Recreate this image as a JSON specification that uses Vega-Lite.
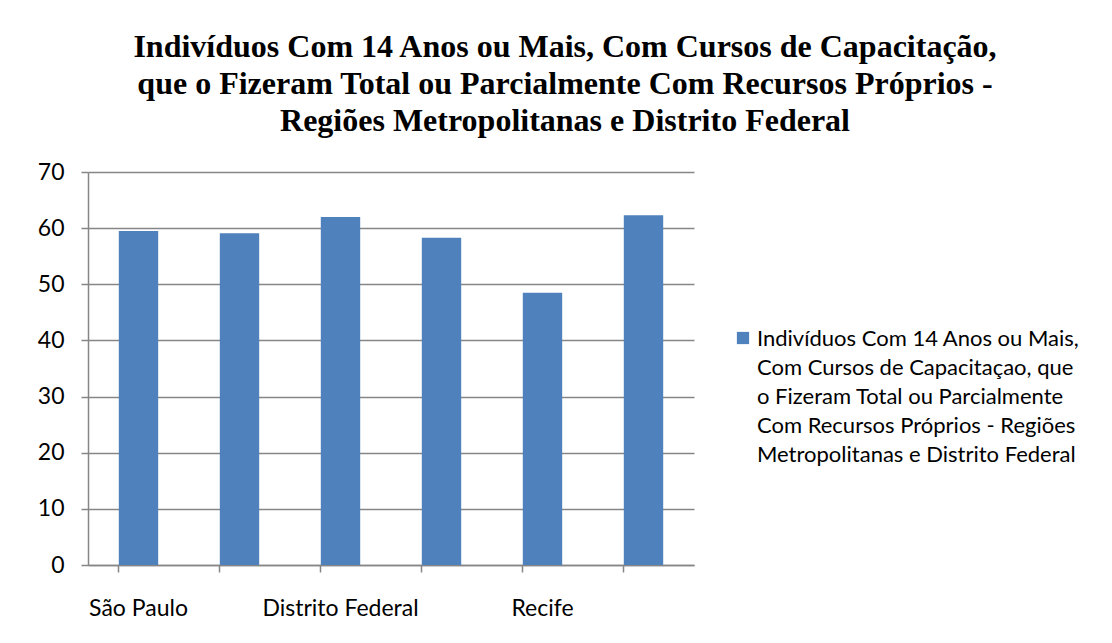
{
  "$schema": "https://vega.github.io/schema/vega-lite/v6.json",
  "autosize": "none",
  "width": 606,
  "height": 393,
  "padding": {"left": 88, "top": 172, "right": 418, "bottom": 78},
  "background": "white",
  "title": {
    "text": ["Indivíduos Com 14 Anos ou Mais, Com Cursos de Capacitação,", "que o Fizeram Total ou Parcialmente  Com Recursos Próprios -", "Regiões Metropolitanas  e Distrito  Federal"],
    "font": "Liberation Serif",
    "fontSize": 32,
    "fontWeight": "bold",
    "color": "black",
    "lineHeight": 37,
    "anchor": "middle",
    "dx": 174,
    "offset": 23
  },
  "data": {
    "values": [
      {"regiao": "São Paulo", "valor": 59.5, "serie": "s"},
      {"regiao": "Belo Horizonte", "valor": 59.1, "serie": "s"},
      {"regiao": "Distrito Federal", "valor": 62.0, "serie": "s"},
      {"regiao": "Porto Alegre", "valor": 58.3, "serie": "s"},
      {"regiao": "Recife", "valor": 48.5, "serie": "s"},
      {"regiao": "Salvador", "valor": 62.3, "serie": "s"}
    ]
  },
  "mark": {"type": "bar", "color": "#4F81BD"},
  "encoding": {
    "x": {
      "field": "regiao",
      "type": "nominal",
      "sort": null,
      "scale": {"paddingInner": 0.61, "paddingOuter": 0.305},
      "axis": {
        "title": null,
        "labelAngle": 0,
        "labelExpr": "indexof(['São Paulo','Distrito Federal','Recife'], datum.label) >= 0 ? datum.label : ''",
        "labelFont": "Lato",
        "labelFontSize": 23,
        "labelColor": "black",
        "labelPadding": 34,
        "labelOverlap": false,
        "labelLimit": 300,
        "bandPosition": 0,
        "ticks": true,
        "tickSize": 7,
        "tickColor": "#868686",
        "tickWidth": 1.5,
        "domainColor": "#868686",
        "domainWidth": 1.5,
        "grid": false
      }
    },
    "y": {
      "field": "valor",
      "type": "quantitative",
      "scale": {"domain": [0, 70]},
      "axis": {
        "title": null,
        "values": [0, 10, 20, 30, 40, 50, 60, 70],
        "labelFont": "Lato",
        "labelFontSize": 23,
        "labelColor": "black",
        "labelPadding": 17,
        "labelOffset": 9,
        "tickSize": 7,
        "tickColor": "#868686",
        "tickWidth": 1.5,
        "domainColor": "#868686",
        "domainWidth": 1.5,
        "grid": true,
        "gridColor": "#868686",
        "gridWidth": 1.5
      }
    },
    "color": {
      "field": "serie",
      "type": "nominal",
      "scale": {"range": ["#4F81BD"]},
      "legend": {
        "title": null,
        "orient": "none",
        "legendX": 644,
        "legendY": 155,
        "symbolType": "square",
        "symbolSize": 150,
        "symbolStrokeWidth": 0,
        "labelFont": "Lato",
        "labelFontSize": 22,
        "labelColor": "black",
        "labelLimit": 400,
        "labelBaseline": "top",
        "labelOffset": 3,
        "labelExpr": "['Indivíduos Com 14 Anos ou Mais,', 'Com Cursos de Capacitaçao, que', 'o Fizeram Total ou Parcialmente', 'Com Recursos Próprios - Regiões', 'Metropolitanas e Distrito Federal']"
      }
    }
  },
  "config": {
    "view": {"stroke": null},
    "style": {"guide-label": {"lineHeight": 29, "dy": -9}}
  }
}
